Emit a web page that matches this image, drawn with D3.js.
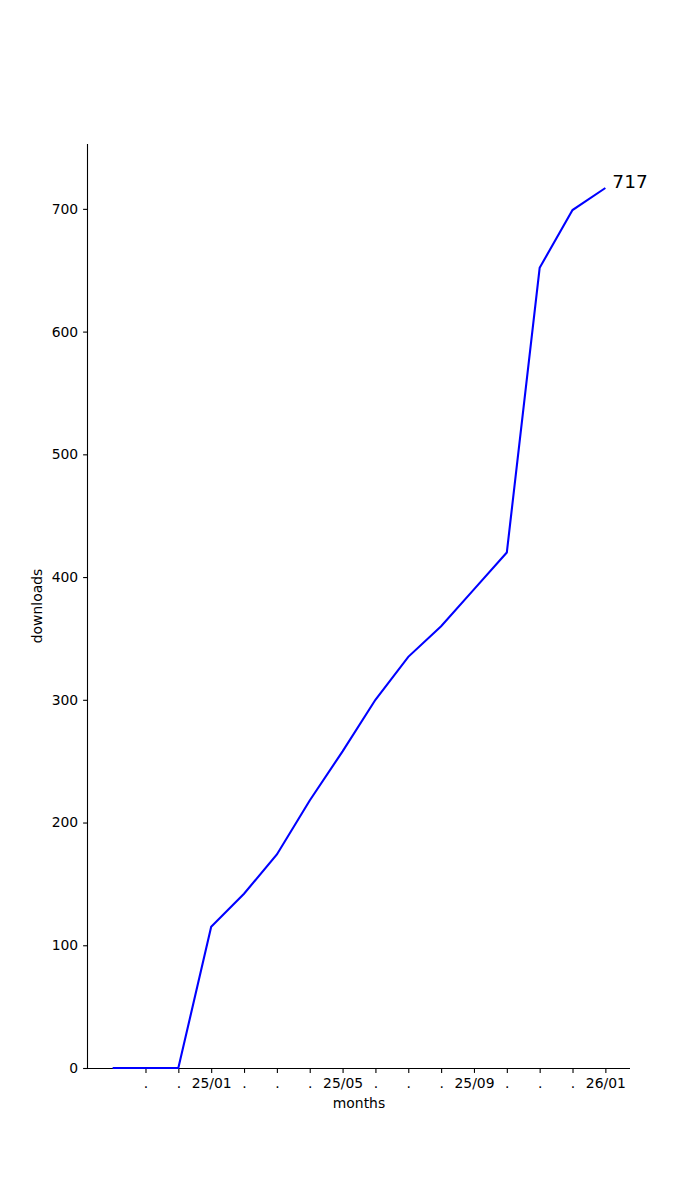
<!DOCTYPE html>
<html>
<head>
<meta charset="utf-8">
<script src="https://cdn.jsdelivr.net/npm/d3@7"></script>
<style>
  body { margin: 0; background: #fff; }
  svg { display: block; font-family: "DejaVu Sans", sans-serif; }
</style>
</head>
<body>
<svg id="chart" width="700" height="1200"></svg>
<script>
// Data
const months = ["24/10","24/11","24/12","25/01","25/02","25/03","25/04","25/05","25/06","25/07","25/08","25/09","25/10","25/11","25/12","26/01"];
const downloads = [0, 0, 0, 115, 142, 174, 218, 258, 300, 335, 360, 390, 420, 652, 699, 717];
const xTickIndex = [1,2,3,4,5,6,7,8,9,10,11,12,13,14,15];
const xTickLabels = [".", ".", "25/01", ".", ".", ".", "25/05", ".", ".", ".", "25/09", ".", ".", ".", "26/01"];
const yTicks = [0, 100, 200, 300, 400, 500, 600, 700];

const svg = d3.select("#chart");
const mLeft = 88, mRight = 630, mTop = 144, mBottom = 1068;

const n = months.length;
const x = d3.scaleLinear().domain([-0.75, (n - 1) + 0.75]).range([mLeft, mRight]);
const yMax = d3.max(downloads);
const y = d3.scaleLinear().domain([0, yMax + yMax * 0.05]).range([mBottom, mTop]);

const tickFont = "13.9px";

// X axis
const xAxis = d3.axisBottom(x)
  .tickValues(xTickIndex)
  .tickFormat((d, i) => xTickLabels[i])
  .tickSize(4.9)
  .tickPadding(4.9);
const gx = svg.append("g").attr("transform", `translate(0,${mBottom})`).call(xAxis);
gx.select(".domain").attr("d", `M${mLeft},0.5H${mRight}`).attr("stroke", "#000").attr("stroke-width", 1.1);
gx.selectAll(".tick line").attr("stroke", "#000").attr("stroke-width", 1.1);
gx.selectAll(".tick text").attr("font-size", tickFont).attr("fill", "#000").attr("font-family", "DejaVu Sans, sans-serif");

// Y axis
const yAxis = d3.axisLeft(y)
  .tickValues(yTicks)
  .tickFormat(d3.format("d"))
  .tickSize(4.9)
  .tickPadding(4.9);
const gy = svg.append("g").attr("transform", `translate(${mLeft},0)`).call(yAxis);
gy.select(".domain").attr("d", `M-0.5,${mTop}V${mBottom}`).attr("stroke", "#000").attr("stroke-width", 1.1);
gy.selectAll(".tick line").attr("stroke", "#000").attr("stroke-width", 1.1);
gy.selectAll(".tick text").attr("font-size", tickFont).attr("fill", "#000").attr("font-family", "DejaVu Sans, sans-serif");

// Line
const line = d3.line().x((d, i) => x(i)).y(d => y(d));
svg.append("path")
  .datum(downloads)
  .attr("fill", "none")
  .attr("stroke", "#0000ff")
  .attr("stroke-width", 2.1)
  .attr("stroke-linejoin", "miter")
  .attr("d", line);

// End label
svg.append("text")
  .attr("x", x(n - 1) + 7)
  .attr("y", y(downloads[n - 1]))
  .attr("font-size", "18.5px")
  .attr("fill", "#000")
  .text(String(downloads[n - 1]));

// Axis labels
svg.append("text")
  .attr("x", (mLeft + mRight) / 2)
  .attr("y", 1108)
  .attr("text-anchor", "middle")
  .attr("font-size", tickFont)
  .attr("fill", "#000")
  .text("months");

svg.append("text")
  .attr("transform", `translate(42,${(mTop + mBottom) / 2}) rotate(-90)`)
  .attr("text-anchor", "middle")
  .attr("font-size", tickFont)
  .attr("fill", "#000")
  .text("downloads");
</script>
</body>
</html>
